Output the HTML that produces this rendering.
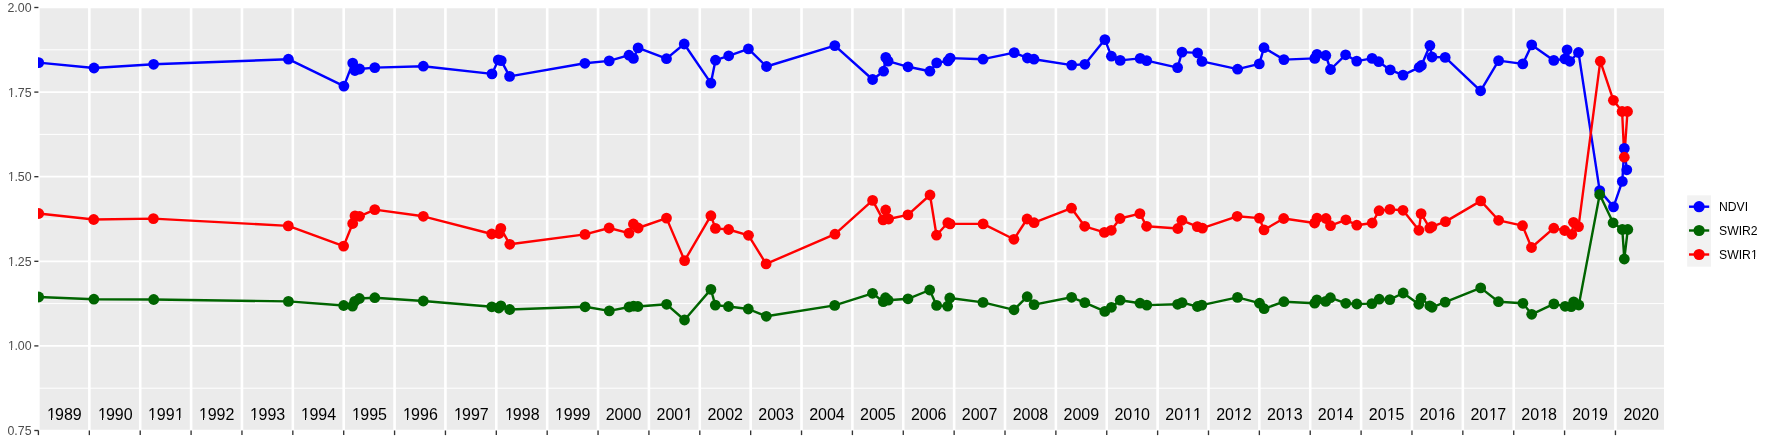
<!DOCTYPE html>
<html><head><meta charset="utf-8"><title>Time series</title>
<style>html,body{margin:0;padding:0;background:#fff;}body{width:1773px;height:442px;overflow:hidden;}svg{display:block;will-change:transform;}text{-webkit-font-smoothing:antialiased;font-kerning:none;font-variant-ligatures:none;}</style>
</head><body><svg width="1773" height="442" viewBox="0 0 1773 442"><defs><clipPath id="k0"><path clip-rule="evenodd" d="M41.08,400.60H86.67V427.80H41.08ZM47.20,418.00H51.00V421.30H47.20ZM52.00,418.00H56.09V421.30H52.00Z"/></clipPath><clipPath id="k1"><path clip-rule="evenodd" d="M91.99,400.60H137.58V427.80H91.99ZM98.20,418.00H102.00V421.30H98.20ZM103.00,418.00H107.09V421.30H103.00Z"/></clipPath><clipPath id="k2"><path clip-rule="evenodd" d="M142.86,400.60H188.45V427.80H142.86ZM148.20,418.00H152.00V421.30H148.20ZM153.00,418.00H157.09V421.30H153.00ZM175.20,418.00H179.00V421.30H175.20ZM180.00,418.00H184.09V421.30H180.00Z"/></clipPath><clipPath id="k3"><path clip-rule="evenodd" d="M193.73,400.60H239.32V427.80H193.73ZM199.20,418.00H203.00V421.30H199.20ZM204.00,418.00H208.09V421.30H204.00Z"/></clipPath><clipPath id="k4"><path clip-rule="evenodd" d="M244.60,400.60H290.19V427.80H244.60ZM250.20,418.00H254.00V421.30H250.20ZM255.00,418.00H259.09V421.30H255.00Z"/></clipPath><clipPath id="k5"><path clip-rule="evenodd" d="M295.47,400.60H341.06V427.80H295.47ZM301.20,418.00H305.00V421.30H301.20ZM306.00,418.00H310.09V421.30H306.00Z"/></clipPath><clipPath id="k6"><path clip-rule="evenodd" d="M346.34,400.60H391.93V427.80H346.34ZM352.20,418.00H356.00V421.30H352.20ZM357.00,418.00H361.09V421.30H357.00Z"/></clipPath><clipPath id="k7"><path clip-rule="evenodd" d="M397.21,400.60H442.80V427.80H397.21ZM403.20,418.00H407.00V421.30H403.20ZM408.00,418.00H412.09V421.30H408.00Z"/></clipPath><clipPath id="k8"><path clip-rule="evenodd" d="M448.08,400.60H493.67V427.80H448.08ZM454.20,418.00H458.00V421.30H454.20ZM459.00,418.00H463.09V421.30H459.00Z"/></clipPath><clipPath id="k9"><path clip-rule="evenodd" d="M498.95,400.60H544.54V427.80H498.95ZM505.20,418.00H509.00V421.30H505.20ZM510.00,418.00H514.09V421.30H510.00Z"/></clipPath><clipPath id="k10"><path clip-rule="evenodd" d="M549.82,400.60H595.41V427.80H549.82ZM555.20,418.00H559.00V421.30H555.20ZM560.00,418.00H564.09V421.30H560.00Z"/></clipPath><clipPath id="k11"><path clip-rule="evenodd" d="M651.56,400.60H697.15V427.80H651.56ZM684.20,418.00H688.00V421.30H684.20ZM689.00,418.00H693.09V421.30H689.00Z"/></clipPath><clipPath id="k12"><path clip-rule="evenodd" d="M1109.39,400.60H1154.98V427.80H1109.39ZM1133.20,418.00H1137.00V421.30H1133.20ZM1138.00,418.00H1142.09V421.30H1138.00Z"/></clipPath><clipPath id="k13"><path clip-rule="evenodd" d="M1160.26,400.60H1205.85V427.80H1160.26ZM1184.20,418.00H1188.00V421.30H1184.20ZM1189.00,418.00H1193.09V421.30H1189.00ZM1193.20,418.00H1197.00V421.30H1193.20ZM1198.00,418.00H1202.09V421.30H1198.00Z"/></clipPath><clipPath id="k14"><path clip-rule="evenodd" d="M1211.13,400.60H1256.72V427.80H1211.13ZM1234.20,418.00H1238.00V421.30H1234.20ZM1239.00,418.00H1243.09V421.30H1239.00Z"/></clipPath><clipPath id="k15"><path clip-rule="evenodd" d="M1262.00,400.60H1307.59V427.80H1262.00ZM1285.20,418.00H1289.00V421.30H1285.20ZM1290.00,418.00H1294.09V421.30H1290.00Z"/></clipPath><clipPath id="k16"><path clip-rule="evenodd" d="M1312.87,400.60H1358.46V427.80H1312.87ZM1336.20,418.00H1340.00V421.30H1336.20ZM1341.00,418.00H1345.09V421.30H1341.00Z"/></clipPath><clipPath id="k17"><path clip-rule="evenodd" d="M1363.74,400.60H1409.33V427.80H1363.74ZM1387.20,418.00H1391.00V421.30H1387.20ZM1392.00,418.00H1396.09V421.30H1392.00Z"/></clipPath><clipPath id="k18"><path clip-rule="evenodd" d="M1414.61,400.60H1460.20V427.80H1414.61ZM1438.20,418.00H1442.00V421.30H1438.20ZM1443.00,418.00H1447.09V421.30H1443.00Z"/></clipPath><clipPath id="k19"><path clip-rule="evenodd" d="M1465.48,400.60H1511.07V427.80H1465.48ZM1489.20,418.00H1493.00V421.30H1489.20ZM1494.00,418.00H1498.09V421.30H1494.00Z"/></clipPath><clipPath id="k20"><path clip-rule="evenodd" d="M1516.35,400.60H1561.94V427.80H1516.35ZM1540.20,418.00H1544.00V421.30H1540.20ZM1545.00,418.00H1549.09V421.30H1545.00Z"/></clipPath><clipPath id="k21"><path clip-rule="evenodd" d="M1567.22,400.60H1612.81V427.80H1567.22ZM1591.20,418.00H1595.00V421.30H1591.20ZM1596.00,418.00H1600.09V421.30H1596.00Z"/></clipPath><clipPath id="k22"><path clip-rule="evenodd" d="M2.47,81.72H36.60V102.80H2.47ZM7.83,95.00H11.00V98.10H7.83ZM12.00,95.00H15.17V98.10H12.00Z"/></clipPath><clipPath id="k23"><path clip-rule="evenodd" d="M2.47,166.32H36.60V187.40H2.47ZM7.83,179.00H11.00V182.70H7.83ZM12.00,179.00H15.17V182.70H12.00Z"/></clipPath><clipPath id="k24"><path clip-rule="evenodd" d="M2.47,250.92H36.60V272.00H2.47ZM7.83,264.00H11.00V267.30H7.83ZM12.00,264.00H15.17V267.30H12.00Z"/></clipPath><clipPath id="k25"><path clip-rule="evenodd" d="M2.47,335.52H36.60V356.60H2.47ZM7.83,348.00H11.00V351.90H7.83ZM12.00,348.00H15.17V351.90H12.00Z"/></clipPath><clipPath id="k26"><path clip-rule="evenodd" d="M1714.00,244.36H1762.64V265.10H1714.00ZM1750.86,257.00H1754.00V260.50H1750.86ZM1755.00,257.00H1758.12V260.50H1755.00Z"/></clipPath><clipPath id="pc"><rect x="38.0" y="7.5" width="1626.00" height="423.00"/></clipPath></defs><rect x="38.4" y="7.5" width="1625.60" height="423.00" fill="#EBEBEB"/><line x1="38.4" x2="1664.0" y1="49.80" y2="49.80" stroke="#fff" stroke-width="1.0"/><line x1="38.4" x2="1664.0" y1="134.40" y2="134.40" stroke="#fff" stroke-width="1.0"/><line x1="38.4" x2="1664.0" y1="219.00" y2="219.00" stroke="#fff" stroke-width="1.0"/><line x1="38.4" x2="1664.0" y1="303.60" y2="303.60" stroke="#fff" stroke-width="1.0"/><line x1="38.4" x2="1664.0" y1="388.20" y2="388.20" stroke="#fff" stroke-width="1.0"/><line x1="38.4" x2="1664.0" y1="7.50" y2="7.50" stroke="#fff" stroke-width="1.7"/><line x1="38.4" x2="1664.0" y1="92.10" y2="92.10" stroke="#fff" stroke-width="1.7"/><line x1="38.4" x2="1664.0" y1="176.70" y2="176.70" stroke="#fff" stroke-width="1.7"/><line x1="38.4" x2="1664.0" y1="261.30" y2="261.30" stroke="#fff" stroke-width="1.7"/><line x1="38.4" x2="1664.0" y1="345.90" y2="345.90" stroke="#fff" stroke-width="1.7"/><line x1="38.4" x2="1664.0" y1="430.50" y2="430.50" stroke="#fff" stroke-width="1.7"/><line x1="38.40" x2="38.40" y1="7.5" y2="430.5" stroke="#fff" stroke-width="2.6"/><line x1="89.35" x2="89.35" y1="7.5" y2="430.5" stroke="#fff" stroke-width="2.6"/><line x1="140.22" x2="140.22" y1="7.5" y2="430.5" stroke="#fff" stroke-width="2.6"/><line x1="191.09" x2="191.09" y1="7.5" y2="430.5" stroke="#fff" stroke-width="2.6"/><line x1="241.96" x2="241.96" y1="7.5" y2="430.5" stroke="#fff" stroke-width="2.6"/><line x1="292.83" x2="292.83" y1="7.5" y2="430.5" stroke="#fff" stroke-width="2.6"/><line x1="343.70" x2="343.70" y1="7.5" y2="430.5" stroke="#fff" stroke-width="2.6"/><line x1="394.57" x2="394.57" y1="7.5" y2="430.5" stroke="#fff" stroke-width="2.6"/><line x1="445.44" x2="445.44" y1="7.5" y2="430.5" stroke="#fff" stroke-width="2.6"/><line x1="496.31" x2="496.31" y1="7.5" y2="430.5" stroke="#fff" stroke-width="2.6"/><line x1="547.18" x2="547.18" y1="7.5" y2="430.5" stroke="#fff" stroke-width="2.6"/><line x1="598.05" x2="598.05" y1="7.5" y2="430.5" stroke="#fff" stroke-width="2.6"/><line x1="648.92" x2="648.92" y1="7.5" y2="430.5" stroke="#fff" stroke-width="2.6"/><line x1="699.79" x2="699.79" y1="7.5" y2="430.5" stroke="#fff" stroke-width="2.6"/><line x1="750.66" x2="750.66" y1="7.5" y2="430.5" stroke="#fff" stroke-width="2.6"/><line x1="801.53" x2="801.53" y1="7.5" y2="430.5" stroke="#fff" stroke-width="2.6"/><line x1="852.40" x2="852.40" y1="7.5" y2="430.5" stroke="#fff" stroke-width="2.6"/><line x1="903.27" x2="903.27" y1="7.5" y2="430.5" stroke="#fff" stroke-width="2.6"/><line x1="954.14" x2="954.14" y1="7.5" y2="430.5" stroke="#fff" stroke-width="2.6"/><line x1="1005.01" x2="1005.01" y1="7.5" y2="430.5" stroke="#fff" stroke-width="2.6"/><line x1="1055.88" x2="1055.88" y1="7.5" y2="430.5" stroke="#fff" stroke-width="2.6"/><line x1="1106.75" x2="1106.75" y1="7.5" y2="430.5" stroke="#fff" stroke-width="2.6"/><line x1="1157.62" x2="1157.62" y1="7.5" y2="430.5" stroke="#fff" stroke-width="2.6"/><line x1="1208.49" x2="1208.49" y1="7.5" y2="430.5" stroke="#fff" stroke-width="2.6"/><line x1="1259.36" x2="1259.36" y1="7.5" y2="430.5" stroke="#fff" stroke-width="2.6"/><line x1="1310.23" x2="1310.23" y1="7.5" y2="430.5" stroke="#fff" stroke-width="2.6"/><line x1="1361.10" x2="1361.10" y1="7.5" y2="430.5" stroke="#fff" stroke-width="2.6"/><line x1="1411.97" x2="1411.97" y1="7.5" y2="430.5" stroke="#fff" stroke-width="2.6"/><line x1="1462.84" x2="1462.84" y1="7.5" y2="430.5" stroke="#fff" stroke-width="2.6"/><line x1="1513.71" x2="1513.71" y1="7.5" y2="430.5" stroke="#fff" stroke-width="2.6"/><line x1="1564.58" x2="1564.58" y1="7.5" y2="430.5" stroke="#fff" stroke-width="2.6"/><line x1="1615.45" x2="1615.45" y1="7.5" y2="430.5" stroke="#fff" stroke-width="2.6"/><g clip-path="url(#pc)" fill="none" stroke-width="2.4" stroke-linejoin="round" stroke-linecap="butt"><path d="M38.7,62.6 L94.0,68.0 L153.6,64.3 L288.4,59.2 L343.9,86.1 L352.7,63.1 L354.9,70.5 L359.6,69.0 L374.8,67.6 L423.3,66.2 L492.0,73.9 L498.3,59.9 L501.2,60.6 L509.6,76.4 L584.9,63.3 L609.2,60.9 L629.0,55.2 L633.4,58.4 L638.1,47.9 L666.5,58.7 L684.2,44.0 L710.9,83.1 L715.5,60.2 L728.7,55.8 L748.4,48.9 L766.5,66.5 L834.8,45.6 L872.6,79.5 L883.6,71.2 L885.8,57.4 L888.1,61.1 L908.0,66.8 L929.9,71.2 L936.7,62.9 L948.0,60.9 L950.2,58.1 L983.0,59.2 L1014.2,52.6 L1027.4,58.0 L1034.0,59.2 L1071.7,65.1 L1084.9,64.3 L1104.9,39.6 L1111.4,56.2 L1120.2,60.4 L1140.2,58.4 L1146.7,60.6 L1177.6,67.6 L1182.0,52.1 L1197.6,52.9 L1202.0,61.4 L1237.6,69.2 L1259.3,63.9 L1264.0,47.7 L1283.9,59.6 L1314.8,58.4 L1317.0,54.3 L1325.8,55.5 L1330.5,69.5 L1345.6,54.8 L1356.7,61.1 L1372.1,58.4 L1378.7,61.7 L1390.2,69.9 L1403.0,75.1 L1419.2,67.3 L1421.4,65.5 L1429.9,45.5 L1432.0,57.0 L1445.2,57.4 L1480.6,90.8 L1498.6,60.6 L1522.8,63.9 L1531.7,44.9 L1553.8,60.4 L1564.9,58.9 L1567.1,49.8 L1569.8,61.3 L1578.5,52.5 L1599.7,190.6 L1613.5,206.9 L1622.3,181.4 L1624.3,148.4 L1626.8,169.8" stroke="#0000FF"/><path d="M38.7,297.0 L93.9,299.2 L153.7,299.5 L288.4,301.4 L343.7,305.5 L352.5,306.1 L354.7,301.4 L359.4,298.5 L374.8,297.7 L423.3,301.0 L491.8,306.8 L498.7,308.0 L500.9,305.8 L509.7,309.5 L585.1,306.8 L609.3,310.9 L629.1,307.0 L633.5,306.1 L637.9,306.5 L666.6,304.3 L684.5,320.0 L710.9,289.4 L715.3,305.1 L728.5,306.5 L748.3,309.0 L766.3,316.3 L834.7,305.4 L872.5,293.3 L883.3,301.7 L885.5,297.7 L888.2,300.2 L908.0,298.8 L929.7,290.0 L936.6,305.4 L947.6,306.2 L949.8,298.0 L983.0,302.4 L1014.0,309.8 L1027.2,296.7 L1034.1,304.6 L1071.6,297.3 L1084.8,302.6 L1104.8,311.4 L1111.4,307.3 L1120.2,300.2 L1140.0,303.2 L1146.8,305.1 L1177.6,304.3 L1182.0,302.6 L1197.4,306.5 L1201.8,305.1 L1237.5,297.4 L1259.5,303.2 L1264.1,308.7 L1283.9,301.7 L1314.7,303.2 L1316.9,299.9 L1325.7,301.4 L1330.4,297.7 L1345.8,303.3 L1356.8,304.0 L1371.9,303.6 L1379.2,299.2 L1389.8,299.6 L1403.2,293.0 L1418.8,304.3 L1421.0,298.2 L1429.8,305.8 L1432.0,307.3 L1445.2,302.1 L1480.7,287.9 L1498.5,301.7 L1522.9,303.3 L1531.7,314.3 L1553.9,303.9 L1565.1,306.3 L1571.2,306.7 L1573.7,301.9 L1578.8,305.0 L1599.7,194.5 L1613.1,222.8 L1622.3,229.5 L1624.3,259.0 L1627.8,229.5" stroke="#006400"/><path d="M38.7,213.5 L93.7,219.5 L153.4,218.6 L288.3,225.9 L343.6,246.1 L352.7,223.5 L355.0,215.9 L359.5,216.3 L374.8,209.6 L423.3,216.3 L491.7,234.0 L499.0,233.5 L500.8,228.4 L509.8,244.3 L585.0,234.4 L609.1,228.0 L629.0,233.1 L633.4,224.0 L638.1,228.0 L666.5,218.1 L684.6,260.6 L710.9,215.7 L715.4,228.4 L728.6,229.5 L748.5,235.3 L766.1,263.9 L835.0,234.2 L872.6,200.4 L883.1,219.9 L885.7,210.0 L888.6,219.0 L907.9,214.9 L930.0,195.0 L936.5,235.2 L947.8,222.7 L950.1,223.9 L983.1,223.9 L1013.9,239.3 L1027.1,219.0 L1034.1,222.7 L1071.5,208.2 L1084.7,226.3 L1104.4,232.4 L1111.3,230.3 L1120.0,218.5 L1139.9,213.6 L1146.6,226.3 L1177.8,228.5 L1181.9,220.3 L1197.3,226.6 L1202.4,228.1 L1237.2,216.3 L1259.4,218.1 L1264.0,229.9 L1283.7,218.5 L1314.6,223.0 L1317.0,218.1 L1326.0,218.5 L1330.5,225.7 L1345.9,219.8 L1356.8,225.2 L1372.2,223.0 L1379.1,210.7 L1389.9,209.4 L1403.0,210.3 L1418.9,230.3 L1421.1,213.6 L1429.8,228.1 L1431.9,226.6 L1445.5,221.6 L1480.8,200.9 L1498.6,220.3 L1522.5,225.7 L1531.5,247.5 L1553.8,228.2 L1564.7,230.5 L1571.8,234.3 L1573.5,222.3 L1578.5,226.6 L1600.3,61.2 L1613.4,100.3 L1622.1,111.5 L1624.3,157.2 L1627.5,111.5" stroke="#FF0000"/></g><g clip-path="url(#pc)"><g fill="#0000FF"><circle cx="38.7" cy="62.6" r="5.4"/><circle cx="94.0" cy="68.0" r="5.4"/><circle cx="153.6" cy="64.3" r="5.4"/><circle cx="288.4" cy="59.2" r="5.4"/><circle cx="343.9" cy="86.1" r="5.4"/><circle cx="352.7" cy="63.1" r="5.4"/><circle cx="354.9" cy="70.5" r="5.4"/><circle cx="359.6" cy="69.0" r="5.4"/><circle cx="374.8" cy="67.6" r="5.4"/><circle cx="423.3" cy="66.2" r="5.4"/><circle cx="492.0" cy="73.9" r="5.4"/><circle cx="498.3" cy="59.9" r="5.4"/><circle cx="501.2" cy="60.6" r="5.4"/><circle cx="509.6" cy="76.4" r="5.4"/><circle cx="584.9" cy="63.3" r="5.4"/><circle cx="609.2" cy="60.9" r="5.4"/><circle cx="629.0" cy="55.2" r="5.4"/><circle cx="633.4" cy="58.4" r="5.4"/><circle cx="638.1" cy="47.9" r="5.4"/><circle cx="666.5" cy="58.7" r="5.4"/><circle cx="684.2" cy="44.0" r="5.4"/><circle cx="710.9" cy="83.1" r="5.4"/><circle cx="715.5" cy="60.2" r="5.4"/><circle cx="728.7" cy="55.8" r="5.4"/><circle cx="748.4" cy="48.9" r="5.4"/><circle cx="766.5" cy="66.5" r="5.4"/><circle cx="834.8" cy="45.6" r="5.4"/><circle cx="872.6" cy="79.5" r="5.4"/><circle cx="883.6" cy="71.2" r="5.4"/><circle cx="885.8" cy="57.4" r="5.4"/><circle cx="888.1" cy="61.1" r="5.4"/><circle cx="908.0" cy="66.8" r="5.4"/><circle cx="929.9" cy="71.2" r="5.4"/><circle cx="936.7" cy="62.9" r="5.4"/><circle cx="948.0" cy="60.9" r="5.4"/><circle cx="950.2" cy="58.1" r="5.4"/><circle cx="983.0" cy="59.2" r="5.4"/><circle cx="1014.2" cy="52.6" r="5.4"/><circle cx="1027.4" cy="58.0" r="5.4"/><circle cx="1034.0" cy="59.2" r="5.4"/><circle cx="1071.7" cy="65.1" r="5.4"/><circle cx="1084.9" cy="64.3" r="5.4"/><circle cx="1104.9" cy="39.6" r="5.4"/><circle cx="1111.4" cy="56.2" r="5.4"/><circle cx="1120.2" cy="60.4" r="5.4"/><circle cx="1140.2" cy="58.4" r="5.4"/><circle cx="1146.7" cy="60.6" r="5.4"/><circle cx="1177.6" cy="67.6" r="5.4"/><circle cx="1182.0" cy="52.1" r="5.4"/><circle cx="1197.6" cy="52.9" r="5.4"/><circle cx="1202.0" cy="61.4" r="5.4"/><circle cx="1237.6" cy="69.2" r="5.4"/><circle cx="1259.3" cy="63.9" r="5.4"/><circle cx="1264.0" cy="47.7" r="5.4"/><circle cx="1283.9" cy="59.6" r="5.4"/><circle cx="1314.8" cy="58.4" r="5.4"/><circle cx="1317.0" cy="54.3" r="5.4"/><circle cx="1325.8" cy="55.5" r="5.4"/><circle cx="1330.5" cy="69.5" r="5.4"/><circle cx="1345.6" cy="54.8" r="5.4"/><circle cx="1356.7" cy="61.1" r="5.4"/><circle cx="1372.1" cy="58.4" r="5.4"/><circle cx="1378.7" cy="61.7" r="5.4"/><circle cx="1390.2" cy="69.9" r="5.4"/><circle cx="1403.0" cy="75.1" r="5.4"/><circle cx="1419.2" cy="67.3" r="5.4"/><circle cx="1421.4" cy="65.5" r="5.4"/><circle cx="1429.9" cy="45.5" r="5.4"/><circle cx="1432.0" cy="57.0" r="5.4"/><circle cx="1445.2" cy="57.4" r="5.4"/><circle cx="1480.6" cy="90.8" r="5.4"/><circle cx="1498.6" cy="60.6" r="5.4"/><circle cx="1522.8" cy="63.9" r="5.4"/><circle cx="1531.7" cy="44.9" r="5.4"/><circle cx="1553.8" cy="60.4" r="5.4"/><circle cx="1564.9" cy="58.9" r="5.4"/><circle cx="1567.1" cy="49.8" r="5.4"/><circle cx="1569.8" cy="61.3" r="5.4"/><circle cx="1578.5" cy="52.5" r="5.4"/><circle cx="1599.7" cy="190.6" r="5.4"/><circle cx="1613.5" cy="206.9" r="5.4"/><circle cx="1622.3" cy="181.4" r="5.4"/><circle cx="1624.3" cy="148.4" r="5.4"/><circle cx="1626.8" cy="169.8" r="5.4"/></g><g fill="#006400"><circle cx="38.7" cy="297.0" r="5.4"/><circle cx="93.9" cy="299.2" r="5.4"/><circle cx="153.7" cy="299.5" r="5.4"/><circle cx="288.4" cy="301.4" r="5.4"/><circle cx="343.7" cy="305.5" r="5.4"/><circle cx="352.5" cy="306.1" r="5.4"/><circle cx="354.7" cy="301.4" r="5.4"/><circle cx="359.4" cy="298.5" r="5.4"/><circle cx="374.8" cy="297.7" r="5.4"/><circle cx="423.3" cy="301.0" r="5.4"/><circle cx="491.8" cy="306.8" r="5.4"/><circle cx="498.7" cy="308.0" r="5.4"/><circle cx="500.9" cy="305.8" r="5.4"/><circle cx="509.7" cy="309.5" r="5.4"/><circle cx="585.1" cy="306.8" r="5.4"/><circle cx="609.3" cy="310.9" r="5.4"/><circle cx="629.1" cy="307.0" r="5.4"/><circle cx="633.5" cy="306.1" r="5.4"/><circle cx="637.9" cy="306.5" r="5.4"/><circle cx="666.6" cy="304.3" r="5.4"/><circle cx="684.5" cy="320.0" r="5.4"/><circle cx="710.9" cy="289.4" r="5.4"/><circle cx="715.3" cy="305.1" r="5.4"/><circle cx="728.5" cy="306.5" r="5.4"/><circle cx="748.3" cy="309.0" r="5.4"/><circle cx="766.3" cy="316.3" r="5.4"/><circle cx="834.7" cy="305.4" r="5.4"/><circle cx="872.5" cy="293.3" r="5.4"/><circle cx="883.3" cy="301.7" r="5.4"/><circle cx="885.5" cy="297.7" r="5.4"/><circle cx="888.2" cy="300.2" r="5.4"/><circle cx="908.0" cy="298.8" r="5.4"/><circle cx="929.7" cy="290.0" r="5.4"/><circle cx="936.6" cy="305.4" r="5.4"/><circle cx="947.6" cy="306.2" r="5.4"/><circle cx="949.8" cy="298.0" r="5.4"/><circle cx="983.0" cy="302.4" r="5.4"/><circle cx="1014.0" cy="309.8" r="5.4"/><circle cx="1027.2" cy="296.7" r="5.4"/><circle cx="1034.1" cy="304.6" r="5.4"/><circle cx="1071.6" cy="297.3" r="5.4"/><circle cx="1084.8" cy="302.6" r="5.4"/><circle cx="1104.8" cy="311.4" r="5.4"/><circle cx="1111.4" cy="307.3" r="5.4"/><circle cx="1120.2" cy="300.2" r="5.4"/><circle cx="1140.0" cy="303.2" r="5.4"/><circle cx="1146.8" cy="305.1" r="5.4"/><circle cx="1177.6" cy="304.3" r="5.4"/><circle cx="1182.0" cy="302.6" r="5.4"/><circle cx="1197.4" cy="306.5" r="5.4"/><circle cx="1201.8" cy="305.1" r="5.4"/><circle cx="1237.5" cy="297.4" r="5.4"/><circle cx="1259.5" cy="303.2" r="5.4"/><circle cx="1264.1" cy="308.7" r="5.4"/><circle cx="1283.9" cy="301.7" r="5.4"/><circle cx="1314.7" cy="303.2" r="5.4"/><circle cx="1316.9" cy="299.9" r="5.4"/><circle cx="1325.7" cy="301.4" r="5.4"/><circle cx="1330.4" cy="297.7" r="5.4"/><circle cx="1345.8" cy="303.3" r="5.4"/><circle cx="1356.8" cy="304.0" r="5.4"/><circle cx="1371.9" cy="303.6" r="5.4"/><circle cx="1379.2" cy="299.2" r="5.4"/><circle cx="1389.8" cy="299.6" r="5.4"/><circle cx="1403.2" cy="293.0" r="5.4"/><circle cx="1418.8" cy="304.3" r="5.4"/><circle cx="1421.0" cy="298.2" r="5.4"/><circle cx="1429.8" cy="305.8" r="5.4"/><circle cx="1432.0" cy="307.3" r="5.4"/><circle cx="1445.2" cy="302.1" r="5.4"/><circle cx="1480.7" cy="287.9" r="5.4"/><circle cx="1498.5" cy="301.7" r="5.4"/><circle cx="1522.9" cy="303.3" r="5.4"/><circle cx="1531.7" cy="314.3" r="5.4"/><circle cx="1553.9" cy="303.9" r="5.4"/><circle cx="1565.1" cy="306.3" r="5.4"/><circle cx="1571.2" cy="306.7" r="5.4"/><circle cx="1573.7" cy="301.9" r="5.4"/><circle cx="1578.8" cy="305.0" r="5.4"/><circle cx="1599.7" cy="194.5" r="5.4"/><circle cx="1613.1" cy="222.8" r="5.4"/><circle cx="1622.3" cy="229.5" r="5.4"/><circle cx="1624.3" cy="259.0" r="5.4"/><circle cx="1627.8" cy="229.5" r="5.4"/></g><g fill="#FF0000"><circle cx="38.7" cy="213.5" r="5.4"/><circle cx="93.7" cy="219.5" r="5.4"/><circle cx="153.4" cy="218.6" r="5.4"/><circle cx="288.3" cy="225.9" r="5.4"/><circle cx="343.6" cy="246.1" r="5.4"/><circle cx="352.7" cy="223.5" r="5.4"/><circle cx="355.0" cy="215.9" r="5.4"/><circle cx="359.5" cy="216.3" r="5.4"/><circle cx="374.8" cy="209.6" r="5.4"/><circle cx="423.3" cy="216.3" r="5.4"/><circle cx="491.7" cy="234.0" r="5.4"/><circle cx="499.0" cy="233.5" r="5.4"/><circle cx="500.8" cy="228.4" r="5.4"/><circle cx="509.8" cy="244.3" r="5.4"/><circle cx="585.0" cy="234.4" r="5.4"/><circle cx="609.1" cy="228.0" r="5.4"/><circle cx="629.0" cy="233.1" r="5.4"/><circle cx="633.4" cy="224.0" r="5.4"/><circle cx="638.1" cy="228.0" r="5.4"/><circle cx="666.5" cy="218.1" r="5.4"/><circle cx="684.6" cy="260.6" r="5.4"/><circle cx="710.9" cy="215.7" r="5.4"/><circle cx="715.4" cy="228.4" r="5.4"/><circle cx="728.6" cy="229.5" r="5.4"/><circle cx="748.5" cy="235.3" r="5.4"/><circle cx="766.1" cy="263.9" r="5.4"/><circle cx="835.0" cy="234.2" r="5.4"/><circle cx="872.6" cy="200.4" r="5.4"/><circle cx="883.1" cy="219.9" r="5.4"/><circle cx="885.7" cy="210.0" r="5.4"/><circle cx="888.6" cy="219.0" r="5.4"/><circle cx="907.9" cy="214.9" r="5.4"/><circle cx="930.0" cy="195.0" r="5.4"/><circle cx="936.5" cy="235.2" r="5.4"/><circle cx="947.8" cy="222.7" r="5.4"/><circle cx="950.1" cy="223.9" r="5.4"/><circle cx="983.1" cy="223.9" r="5.4"/><circle cx="1013.9" cy="239.3" r="5.4"/><circle cx="1027.1" cy="219.0" r="5.4"/><circle cx="1034.1" cy="222.7" r="5.4"/><circle cx="1071.5" cy="208.2" r="5.4"/><circle cx="1084.7" cy="226.3" r="5.4"/><circle cx="1104.4" cy="232.4" r="5.4"/><circle cx="1111.3" cy="230.3" r="5.4"/><circle cx="1120.0" cy="218.5" r="5.4"/><circle cx="1139.9" cy="213.6" r="5.4"/><circle cx="1146.6" cy="226.3" r="5.4"/><circle cx="1177.8" cy="228.5" r="5.4"/><circle cx="1181.9" cy="220.3" r="5.4"/><circle cx="1197.3" cy="226.6" r="5.4"/><circle cx="1202.4" cy="228.1" r="5.4"/><circle cx="1237.2" cy="216.3" r="5.4"/><circle cx="1259.4" cy="218.1" r="5.4"/><circle cx="1264.0" cy="229.9" r="5.4"/><circle cx="1283.7" cy="218.5" r="5.4"/><circle cx="1314.6" cy="223.0" r="5.4"/><circle cx="1317.0" cy="218.1" r="5.4"/><circle cx="1326.0" cy="218.5" r="5.4"/><circle cx="1330.5" cy="225.7" r="5.4"/><circle cx="1345.9" cy="219.8" r="5.4"/><circle cx="1356.8" cy="225.2" r="5.4"/><circle cx="1372.2" cy="223.0" r="5.4"/><circle cx="1379.1" cy="210.7" r="5.4"/><circle cx="1389.9" cy="209.4" r="5.4"/><circle cx="1403.0" cy="210.3" r="5.4"/><circle cx="1418.9" cy="230.3" r="5.4"/><circle cx="1421.1" cy="213.6" r="5.4"/><circle cx="1429.8" cy="228.1" r="5.4"/><circle cx="1431.9" cy="226.6" r="5.4"/><circle cx="1445.5" cy="221.6" r="5.4"/><circle cx="1480.8" cy="200.9" r="5.4"/><circle cx="1498.6" cy="220.3" r="5.4"/><circle cx="1522.5" cy="225.7" r="5.4"/><circle cx="1531.5" cy="247.5" r="5.4"/><circle cx="1553.8" cy="228.2" r="5.4"/><circle cx="1564.7" cy="230.5" r="5.4"/><circle cx="1571.8" cy="234.3" r="5.4"/><circle cx="1573.5" cy="222.3" r="5.4"/><circle cx="1578.5" cy="226.6" r="5.4"/><circle cx="1600.3" cy="61.2" r="5.4"/><circle cx="1613.4" cy="100.3" r="5.4"/><circle cx="1622.1" cy="111.5" r="5.4"/><circle cx="1624.3" cy="157.2" r="5.4"/><circle cx="1627.5" cy="111.5" r="5.4"/></g></g><g font-family="Liberation Sans, sans-serif" font-size="16" fill="#000"><text x="46.08" y="419.80" clip-path="url(#k0)"><tspan dx="0.893">1</tspan><tspan dx="-0.893">9</tspan>89</text><text x="96.99" y="419.80" clip-path="url(#k1)"><tspan dx="0.983">1</tspan><tspan dx="-0.983">9</tspan>90</text><text x="147.86" y="419.80" clip-path="url(#k2)"><tspan dx="0.113">1</tspan><tspan dx="-0.113">9</tspan>9<tspan dx="0.425">1</tspan></text><text x="198.73" y="419.80" clip-path="url(#k3)"><tspan dx="0.243">1</tspan><tspan dx="-0.243">9</tspan>92</text><text x="249.60" y="419.80" clip-path="url(#k4)"><tspan dx="0.373">1</tspan><tspan dx="-0.373">9</tspan>93</text><text x="300.47" y="419.80" clip-path="url(#k5)"><tspan dx="0.503">1</tspan><tspan dx="-0.503">9</tspan>94</text><text x="351.34" y="419.80" clip-path="url(#k6)"><tspan dx="0.633">1</tspan><tspan dx="-0.633">9</tspan>95</text><text x="402.21" y="419.80" clip-path="url(#k7)"><tspan dx="0.763">1</tspan><tspan dx="-0.763">9</tspan>96</text><text x="453.08" y="419.80" clip-path="url(#k8)"><tspan dx="0.893">1</tspan><tspan dx="-0.893">9</tspan>97</text><text x="503.95" y="419.80" clip-path="url(#k9)"><tspan dx="1.023">1</tspan><tspan dx="-1.023">9</tspan>98</text><text x="554.82" y="419.80" clip-path="url(#k10)"><tspan dx="0.153">1</tspan><tspan dx="-0.153">9</tspan>99</text><text x="605.69" y="419.80">2000</text><text x="656.56" y="419.80" clip-path="url(#k11)">200<tspan dx="0.725">1</tspan></text><text x="707.43" y="419.80">2002</text><text x="758.30" y="419.80">2003</text><text x="809.17" y="419.80">2004</text><text x="860.04" y="419.80">2005</text><text x="910.91" y="419.80">2006</text><text x="961.78" y="419.80">2007</text><text x="1012.65" y="419.80">2008</text><text x="1063.52" y="419.80">2009</text><text x="1114.39" y="419.80" clip-path="url(#k12)">20<tspan dx="0.791">1</tspan><tspan dx="-0.791">0</tspan></text><text x="1165.26" y="419.80" clip-path="url(#k13)">20<tspan dx="0.921">1</tspan><tspan dx="0.104">1</tspan></text><text x="1216.13" y="419.80" clip-path="url(#k14)">20<tspan dx="0.051">1</tspan><tspan dx="-0.051">2</tspan></text><text x="1267.00" y="419.80" clip-path="url(#k15)">20<tspan dx="0.181">1</tspan><tspan dx="-0.181">3</tspan></text><text x="1317.87" y="419.80" clip-path="url(#k16)">20<tspan dx="0.311">1</tspan><tspan dx="-0.311">4</tspan></text><text x="1368.74" y="419.80" clip-path="url(#k17)">20<tspan dx="0.441">1</tspan><tspan dx="-0.441">5</tspan></text><text x="1419.61" y="419.80" clip-path="url(#k18)">20<tspan dx="0.571">1</tspan><tspan dx="-0.571">6</tspan></text><text x="1470.48" y="419.80" clip-path="url(#k19)">20<tspan dx="0.701">1</tspan><tspan dx="-0.701">7</tspan></text><text x="1521.35" y="419.80" clip-path="url(#k20)">20<tspan dx="0.831">1</tspan><tspan dx="-0.831">8</tspan></text><text x="1572.22" y="419.80" clip-path="url(#k21)">20<tspan dx="0.961">1</tspan><tspan dx="-0.961">9</tspan></text><text x="1623.43" y="419.80">2020</text></g><g stroke="#333333" stroke-width="1.35"><line x1="34.3" x2="38.4" y1="7.50" y2="7.50"/><line x1="34.3" x2="38.4" y1="92.10" y2="92.10"/><line x1="34.3" x2="38.4" y1="176.70" y2="176.70"/><line x1="34.3" x2="38.4" y1="261.30" y2="261.30"/><line x1="34.3" x2="38.4" y1="345.90" y2="345.90"/><line x1="34.3" x2="38.4" y1="430.50" y2="430.50"/><line x1="38.40" x2="38.40" y1="430.5" y2="435.10"/><line x1="89.35" x2="89.35" y1="430.5" y2="435.10"/><line x1="140.22" x2="140.22" y1="430.5" y2="435.10"/><line x1="191.09" x2="191.09" y1="430.5" y2="435.10"/><line x1="241.96" x2="241.96" y1="430.5" y2="435.10"/><line x1="292.83" x2="292.83" y1="430.5" y2="435.10"/><line x1="343.70" x2="343.70" y1="430.5" y2="435.10"/><line x1="394.57" x2="394.57" y1="430.5" y2="435.10"/><line x1="445.44" x2="445.44" y1="430.5" y2="435.10"/><line x1="496.31" x2="496.31" y1="430.5" y2="435.10"/><line x1="547.18" x2="547.18" y1="430.5" y2="435.10"/><line x1="598.05" x2="598.05" y1="430.5" y2="435.10"/><line x1="648.92" x2="648.92" y1="430.5" y2="435.10"/><line x1="699.79" x2="699.79" y1="430.5" y2="435.10"/><line x1="750.66" x2="750.66" y1="430.5" y2="435.10"/><line x1="801.53" x2="801.53" y1="430.5" y2="435.10"/><line x1="852.40" x2="852.40" y1="430.5" y2="435.10"/><line x1="903.27" x2="903.27" y1="430.5" y2="435.10"/><line x1="954.14" x2="954.14" y1="430.5" y2="435.10"/><line x1="1005.01" x2="1005.01" y1="430.5" y2="435.10"/><line x1="1055.88" x2="1055.88" y1="430.5" y2="435.10"/><line x1="1106.75" x2="1106.75" y1="430.5" y2="435.10"/><line x1="1157.62" x2="1157.62" y1="430.5" y2="435.10"/><line x1="1208.49" x2="1208.49" y1="430.5" y2="435.10"/><line x1="1259.36" x2="1259.36" y1="430.5" y2="435.10"/><line x1="1310.23" x2="1310.23" y1="430.5" y2="435.10"/><line x1="1361.10" x2="1361.10" y1="430.5" y2="435.10"/><line x1="1411.97" x2="1411.97" y1="430.5" y2="435.10"/><line x1="1462.84" x2="1462.84" y1="430.5" y2="435.10"/><line x1="1513.71" x2="1513.71" y1="430.5" y2="435.10"/><line x1="1564.58" x2="1564.58" y1="430.5" y2="435.10"/><line x1="1615.45" x2="1615.45" y1="430.5" y2="435.10"/></g><g font-family="Liberation Sans, sans-serif" font-size="12.4" fill="#4D4D4D"><text x="7.47" y="12.00">2.00</text><text x="7.47" y="96.60" clip-path="url(#k22)"><tspan dx="0.412">1</tspan><tspan dx="-0.412">.</tspan>75</text><text x="7.47" y="181.20" clip-path="url(#k23)"><tspan dx="0.412">1</tspan><tspan dx="-0.412">.</tspan>50</text><text x="7.47" y="265.80" clip-path="url(#k24)"><tspan dx="0.412">1</tspan><tspan dx="-0.412">.</tspan>25</text><text x="7.47" y="350.40" clip-path="url(#k25)"><tspan dx="0.412">1</tspan><tspan dx="-0.412">.</tspan>00</text><text x="7.47" y="435.00">0.75</text></g><rect x="1687.2" y="195.3" width="23.80" height="71.4" fill="#F2F2F2"/><line x1="1689.0" x2="1709.2" y1="206.7" y2="206.7" stroke="#0000FF" stroke-width="2.4"/><circle cx="1699.10" cy="206.7" r="5.6" fill="#0000FF"/><line x1="1689.0" x2="1709.2" y1="230.5" y2="230.5" stroke="#006400" stroke-width="2.4"/><circle cx="1699.10" cy="230.5" r="5.6" fill="#006400"/><line x1="1689.0" x2="1709.2" y1="254.5" y2="254.5" stroke="#FF0000" stroke-width="2.4"/><circle cx="1699.10" cy="254.5" r="5.6" fill="#FF0000"/><g font-family="Liberation Sans, sans-serif" font-size="12.2" fill="#000"><text x="1719.00" y="211.20">NDVI</text><text x="1719.00" y="235.00">SWIR2</text><text x="1719.00" y="259.00" clip-path="url(#k26)">SWIR<tspan dx="0.078">1</tspan></text></g></svg></body></html>
